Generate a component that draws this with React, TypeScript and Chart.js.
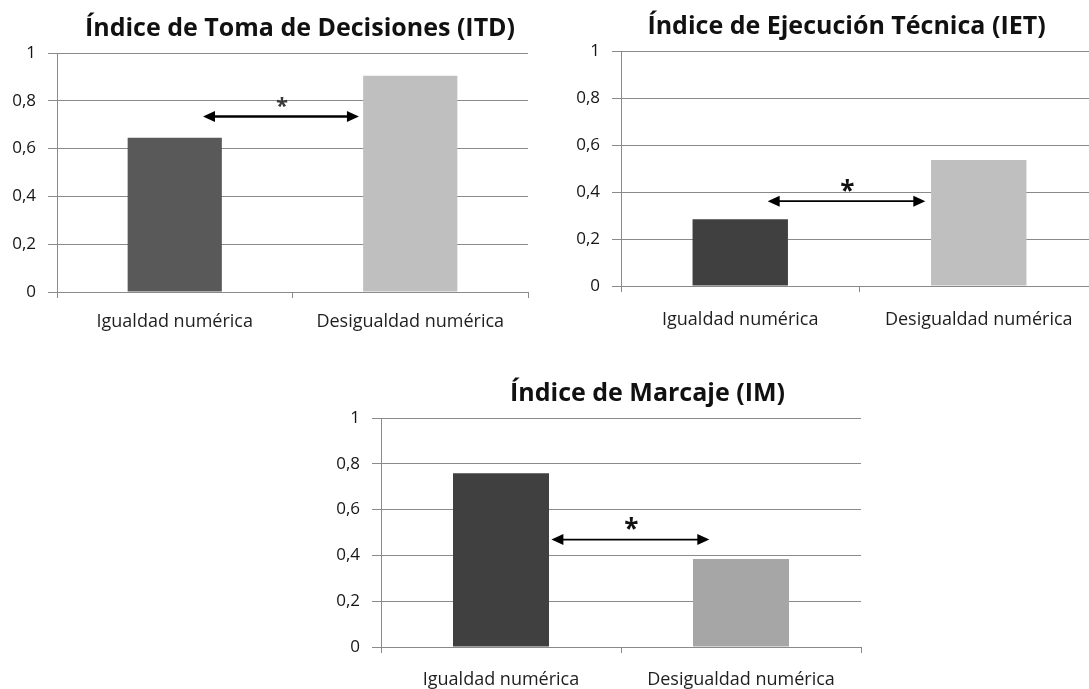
import React, { useEffect, useRef } from "react";
import { Chart, registerables } from "chart.js";

Chart.register(...registerables);

// ---------- data ----------
const categories = ["Igualdad numérica", "Desigualdad numérica"];
const itdValues = [0.645, 0.905];
const ietValues = [0.284, 0.536];
const imValues = [0.759, 0.384];
const yTickValues = [0, 0.2, 0.4, 0.6, 0.8, 1];
const yTickLabels = ["0", "0,2", "0,4", "0,6", "0,8", "1"];

// significance arrows: [from category position, to category position, y value]
const itdArrow = [0.12, 0.782, 0.734];
const ietArrow = [0.115, 0.776, 0.361];
const imArrow = [0.21, 0.868, 0.469];
// asterisk: [category position, y value]
const itdStar = [0.455, 0.792];
const ietStar = [0.449, 0.429];
const imStar = [0.543, 0.54];

const FONT = "'Open Sans', 'DejaVu Sans', sans-serif";
const GRID = "#8a8a8a";
const TITLE_SIZE = 25;
const TITLE_PAD_TOP = 14;

type Panel = {
  title: string;
  values: number[];
  colors: string[];
  arrow: number[];
  star: number[];
  left: number;
  top: number;
  width: number;
  height: number;
  yWidth: number;
  padRight: number;
  xPad: number;
  lineW: number;
  starSize: number;
  starColor: string;
};

const panels: Panel[] = [
  {
    title: "Índice de Toma de Decisiones (ITD)",
    values: itdValues,
    colors: ["#595959", "#bfbfbf"],
    arrow: itdArrow,
    star: itdStar,
    left: 0,
    top: 0,
    width: 600,
    height: 342,
    yWidth: 57,
    padRight: 72,
    xPad: 13,
    lineW: 2.5,
    starSize: 22,
    starColor: "#3a3a3a",
  },
  {
    title: "Índice de Ejecución Técnica (IET)",
    values: ietValues,
    colors: ["#404040", "#bfbfbf"],
    arrow: ietArrow,
    star: ietStar,
    left: 570,
    top: -2,
    width: 553,
    height: 338,
    yWidth: 51,
    padRight: 25,
    xPad: 17,
    lineW: 1.8,
    starSize: 26,
    starColor: "#111",
  },
  {
    title: "Índice de Marcaje (IM)",
    values: imValues,
    colors: ["#404040", "#a6a6a6"],
    arrow: imArrow,
    star: imStar,
    left: 330,
    top: 365,
    width: 635,
    height: 332,
    yWidth: 51,
    padRight: 104,
    xPad: 16,
    lineW: 1.8,
    starSize: 26,
    starColor: "#111",
  },
];

const annotationPlugin = {
  id: "sigArrow",
  afterDatasetsDraw(chart: any, _args: any, opts: any) {
    const { ctx, scales } = chart;
    const xs = scales.x;
    const ys = scales.y;
    const [a0, a1, ay] = opts.arrow;
    const x0 = xs.getPixelForValue(a0);
    const x1 = xs.getPixelForValue(a1);
    const y = ys.getPixelForValue(ay);
    const headL = 12;
    const headH = 5.5;
    ctx.save();
    ctx.strokeStyle = "#000";
    ctx.fillStyle = "#000";
    ctx.lineWidth = opts.lineW;
    ctx.beginPath();
    ctx.moveTo(x0 + headL - 1, y);
    ctx.lineTo(x1 - headL + 1, y);
    ctx.stroke();
    ctx.beginPath();
    ctx.moveTo(x0, y);
    ctx.lineTo(x0 + headL, y - headH);
    ctx.lineTo(x0 + headL, y + headH);
    ctx.closePath();
    ctx.fill();
    ctx.beginPath();
    ctx.moveTo(x1, y);
    ctx.lineTo(x1 - headL, y - headH);
    ctx.lineTo(x1 - headL, y + headH);
    ctx.closePath();
    ctx.fill();

    const [sx, sy] = opts.star;
    const px = xs.getPixelForValue(sx);
    const py = ys.getPixelForValue(sy);
    ctx.font = `bold ${opts.starSize}px ${FONT}`;
    ctx.fillStyle = opts.starColor;
    ctx.textAlign = "center";
    ctx.textBaseline = "alphabetic";
    const m = ctx.measureText("*");
    const base = py + (m.actualBoundingBoxAscent - m.actualBoundingBoxDescent) / 2;
    ctx.fillText("*", px, base);
    ctx.restore();
  },
};

function BarPanel({ p }: { p: Panel }) {
  const ref = useRef<HTMLCanvasElement | null>(null);
  useEffect(() => {
    let chart: Chart | null = null;
    let cancelled = false;
    const make = () => {
      if (cancelled || !ref.current) return;
      chart = new Chart(ref.current, {
        type: "bar",
        data: {
          labels: categories,
          datasets: [
            {
              data: p.values,
              backgroundColor: p.colors,
              borderWidth: 0,
              barPercentage: 0.4,
              categoryPercentage: 1,
            },
          ],
        },
        options: {
          responsive: false,
          animation: false,
          devicePixelRatio: 1,
          layout: { padding: 0 },
          plugins: {
            legend: { display: false },
            tooltip: { enabled: false },
            title: {
              display: true,
              text: p.title,
              color: "#111",
              font: { family: FONT, weight: "bold", size: TITLE_SIZE, lineHeight: 1.2 },
              padding: { top: TITLE_PAD_TOP, bottom: 53 - TITLE_PAD_TOP - TITLE_SIZE * 1.2 },
            },
            sigArrow: {
              arrow: p.arrow,
              star: p.star,
              lineW: p.lineW,
              starSize: p.starSize,
              starColor: p.starColor,
            },
          } as any,
          scales: {
            x: {
              offset: true,
              grid: {
                offset: true,
                drawOnChartArea: false,
                drawTicks: true,
                tickLength: 6,
                color: GRID,
              },
              border: { display: true, color: GRID, width: 1 },
              ticks: {
                color: "#1e1e1e",
                padding: p.xPad,
                font: { family: FONT, size: 18 },
                maxRotation: 0,
              },
              afterFit: (axis: any) => {
                axis.height = 50;
              },
            },
            y: {
              min: 0,
              max: 1,
              grid: { color: GRID, tickLength: 9, drawTicks: true },
              border: { display: true, color: GRID, width: 1 },
              afterBuildTicks: (axis: any) => {
                axis.ticks = yTickValues.map((v) => ({ value: v }));
              },
              ticks: {
                color: "#151515",
                padding: 12,
                font: { family: FONT, size: 17 },
                callback: (_v: any, i: number) => yTickLabels[i],
              },
              afterFit: (axis: any) => {
                axis.width = p.yWidth;
              },
            },
            spacer: {
              type: "linear",
              position: "right",
              display: true,
              min: 0,
              max: 1,
              grid: { display: false, drawTicks: false },
              border: { display: false },
              ticks: { display: false },
              afterFit: (axis: any) => {
                axis.width = p.padRight;
              },
            },
          },
        } as any,
        plugins: [annotationPlugin],
      });
    };
    const fonts = (document as any).fonts;
    if (fonts && fonts.load) {
      Promise.all([
        fonts.load(`bold ${TITLE_SIZE}px 'Open Sans'`),
        fonts.load(`18px 'Open Sans'`),
      ])
        .catch(() => null)
        .then(make);
    } else {
      make();
    }
    return () => {
      cancelled = true;
      if (chart) chart.destroy();
    };
  }, [p]);
  return (
    <canvas
      ref={ref}
      width={p.width}
      height={p.height}
      style={{
        position: "absolute",
        left: p.left,
        top: p.top,
        width: p.width,
        height: p.height,
      }}
    />
  );
}

export default function App() {
  return (
    <div
      style={{
        position: "absolute",
        left: 0,
        top: 0,
        width: 1089,
        height: 689,
        overflow: "hidden",
        background: "#fff",
      }}
    >
      {panels.map((p, i) => (
        <BarPanel key={i} p={p} />
      ))}
    </div>
  );
}
